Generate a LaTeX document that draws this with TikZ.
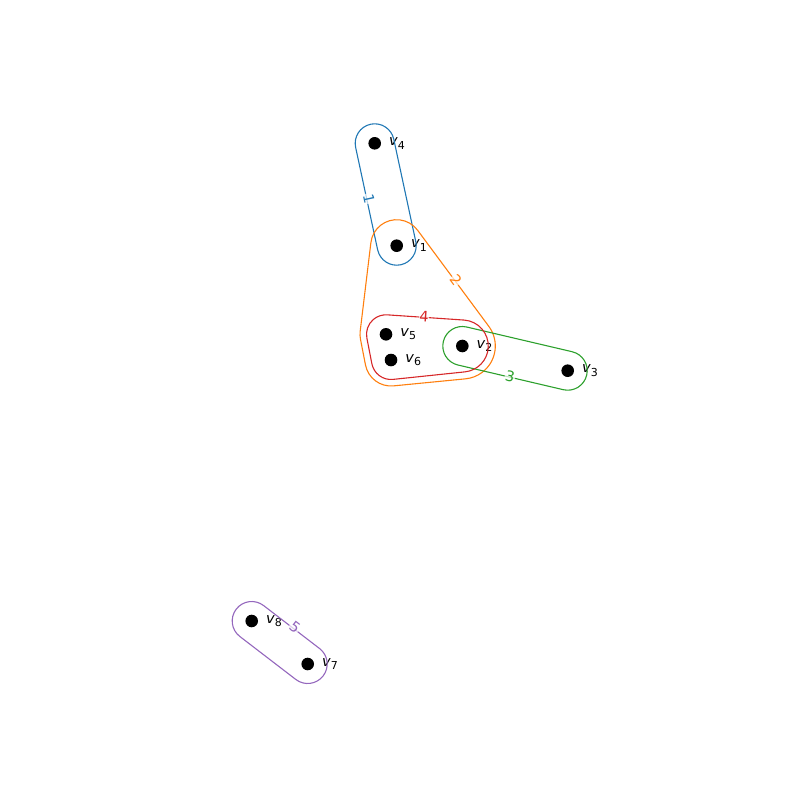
\documentclass[tikz,border=0pt]{standalone}
\usepackage{fontspec}
\setmainfont{DejaVu Sans}
\usetikzlibrary{
    calc,
    positioning
}

\definecolor{hblue}{HTML}{1F77B4}
\definecolor{horange}{HTML}{FF7F0E}
\definecolor{hgreen}{HTML}{2CA02C}
\definecolor{hred}{HTML}{D62728}
\definecolor{hpurple}{HTML}{9467BD}

\tikzset{
    vert/.style={circle, fill=black, inner sep=0pt, minimum size=12.6pt},
    vlabel/.style={inner sep=0pt, font=\fontsize{14.5}{14.5}\selectfont},
    elabel/.style={inner sep=0.6pt, fill=white, fill opacity=0.7, text opacity=1,
        font=\fontsize{14.5}{14.5}\selectfont},
    hull/.style={line width=1.1pt, line join=round}
}
\newcommand{\vname}[1]{\textit{v}\raisebox{-3.5pt}{\fontsize{11}{11}\selectfont #1}}

\begin{document}
\begin{tikzpicture}[x=1pt, y=-1pt]
\useasboundingbox (0,0) rectangle (800,800);

% Vertices
\node[vert] (v1) at (396.7,245.7) {};
\node[vert] (v2) at (462.3,346) {};
\node[vert] (v3) at (567.7,370.7) {};
\node[vert] (v4) at (374.7,143.3) {};
\node[vert] (v5) at (386,334.3) {};
\node[vert] (v6) at (391,360) {};
\node[vert] (v7) at (307.7,664) {};
\node[vert] (v8) at (251.7,621) {};

% Vertex labels
\node[vlabel, right=7.7pt of v1] (l1) {\vname{1}};
\node[vlabel, right=7.7pt of v2] (l2) {\vname{2}};
\node[vlabel, right=7.7pt of v3] (l3) {\vname{3}};
\node[vlabel, right=7.7pt of v4] (l4) {\vname{4}};
\node[vlabel, right=7.7pt of v5] (l5) {\vname{5}};
\node[vlabel, right=7.7pt of v6] (l6) {\vname{6}};
\node[vlabel, right=7.7pt of v7] (l7) {\vname{7}};
\node[vlabel, right=7.7pt of v8] (l8) {\vname{8}};

% Hyperedge 1: v4, v1
\draw[hull, hblue] ($(v4.center)+(167.87:19.5)$)
    arc[start angle=167.87, end angle=347.87, radius=19.5]
    -- ($(v1.center)+(-12.13:19.5)$)
    arc[start angle=-12.13, end angle=167.87, radius=19.5] -- cycle;

% Hyperedge 2: v1, v5, v6, v2
\draw[hull, horange] ($(v2.center)+(-36.54:33)$)
    arc[start angle=-36.54, end angle=84.42, radius=33]
    -- ($(v6.center)+(84.42:26)$)
    arc[start angle=84.42, end angle=169.0, radius=26]
    -- ($(v5.center)+(169.0:26)$)
    arc[start angle=169.0, end angle=186.89, radius=26]
    -- ($(v1.center)+(186.89:26)$)
    arc[start angle=186.89, end angle=323.46, radius=26] -- cycle;

% Hyperedge 3: v2, v3
\draw[hull, hgreen] ($(v2.center)+(103.19:19.5)$)
    arc[start angle=103.19, end angle=283.19, radius=19.5]
    -- ($(v3.center)+(-76.81:19.5)$)
    arc[start angle=-76.81, end angle=103.19, radius=19.5] -- cycle;

% Hyperedge 4: v5, v6, v2
\draw[hull, hred] ($(v2.center)+(-86.11:26)$)
    arc[start angle=-86.11, end angle=84.02, radius=26]
    -- ($(v6.center)+(84.02:19.5)$)
    arc[start angle=84.02, end angle=169.0, radius=19.5]
    -- ($(v5.center)+(169.0:19.5)$)
    arc[start angle=169.0, end angle=273.89, radius=19.5] -- cycle;

% Hyperedge 5: v8, v7
\draw[hull, hpurple] ($(v8.center)+(127.52:19.5)$)
    arc[start angle=127.52, end angle=307.52, radius=19.5]
    -- ($(v7.center)+(-52.48:19.5)$)
    arc[start angle=-52.48, end angle=127.52, radius=19.5] -- cycle;

% Edge labels
\node[elabel, text=hblue, rotate=-77.9] (e1) at (369,198.5) {1};
\node[elabel, text=horange, rotate=-53.5] (e2) at (456,280) {2};
\node[elabel, text=hgreen, rotate=-13.2] (e3) at (510,376.7) {3};
\node[elabel, text=hred, rotate=-3.9] (e4) at (424,316.7) {4};
\node[elabel, text=hpurple, rotate=-37.5] (e5) at (295,626.7) {5};

\end{tikzpicture}
\end{document}
